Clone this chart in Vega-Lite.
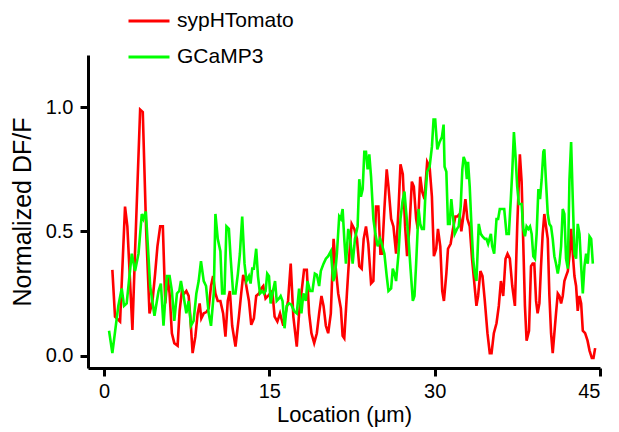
{
"$schema":"https://vega.github.io/schema/vega-lite/v6.json",
"autosize":{"type":"none"},
"padding":{"left":88,"top":55,"right":19,"bottom":64},
"width":512,"height":313,
"config":{"view":{"stroke":null},"font":"Liberation Sans"},
"datasets":{
"red":[
{"x":0.76,"y":0.345},{"x":1.0,"y":0.157},{"x":1.46,"y":0.137},{"x":1.91,"y":0.6},{"x":2.12,"y":0.52},{"x":2.58,"y":0.103},{"x":2.82,"y":0.42},{"x":3.28,"y":0.99},{"x":3.52,"y":0.98},{"x":3.83,"y":0.5},{"x":4.13,"y":0.17},{"x":4.4,"y":0.22},{"x":4.64,"y":0.33},{"x":4.85,"y":0.44},{"x":5.1,"y":0.52},{"x":5.34,"y":0.52},{"x":5.56,"y":0.21},{"x":5.77,"y":0.32},{"x":5.95,"y":0.25},{"x":6.16,"y":0.09},{"x":6.38,"y":0.05},{"x":6.68,"y":0.04},{"x":6.86,"y":0.18},{"x":7.07,"y":0.26},{"x":7.29,"y":0.25},{"x":7.47,"y":0.26},{"x":7.68,"y":0.24},{"x":7.83,"y":0.157},{"x":8.04,"y":0.01},{"x":8.29,"y":0.076},{"x":8.5,"y":0.17},{"x":8.68,"y":0.21},{"x":8.83,"y":0.15},{"x":9.05,"y":0.17},{"x":9.29,"y":0.175},{"x":9.5,"y":0.19},{"x":9.71,"y":0.28},{"x":9.9,"y":0.32},{"x":10.11,"y":0.25},{"x":10.32,"y":0.22},{"x":10.56,"y":0.22},{"x":10.81,"y":0.17},{"x":11.02,"y":0.076},{"x":11.23,"y":0.22},{"x":11.42,"y":0.26},{"x":11.63,"y":0.12},{"x":11.93,"y":0.036},{"x":12.24,"y":0.157},{"x":12.45,"y":0.25},{"x":12.63,"y":0.325},{"x":12.84,"y":0.3},{"x":12.99,"y":0.26},{"x":13.15,"y":0.22},{"x":13.36,"y":0.124},{"x":13.6,"y":0.15},{"x":13.81,"y":0.24},{"x":14.06,"y":0.25},{"x":14.27,"y":0.27},{"x":14.45,"y":0.28},{"x":14.66,"y":0.23},{"x":14.88,"y":0.24},{"x":15.06,"y":0.25},{"x":15.27,"y":0.26},{"x":15.48,"y":0.157},{"x":15.73,"y":0.137},{"x":15.97,"y":0.17},{"x":16.27,"y":0.12},{"x":16.48,"y":0.17},{"x":16.7,"y":0.22},{"x":16.94,"y":0.37},{"x":17.18,"y":0.157},{"x":17.49,"y":0.036},{"x":17.7,"y":0.17},{"x":17.91,"y":0.25},{"x":18.15,"y":0.345},{"x":18.4,"y":0.345},{"x":18.61,"y":0.17},{"x":18.82,"y":0.09},{"x":19.07,"y":0.05},{"x":19.31,"y":0.09},{"x":19.52,"y":0.17},{"x":19.73,"y":0.24},{"x":19.92,"y":0.2},{"x":20.13,"y":0.12},{"x":20.34,"y":0.09},{"x":20.58,"y":0.17},{"x":20.83,"y":0.47},{"x":21.04,"y":0.345},{"x":21.25,"y":0.25},{"x":21.49,"y":0.19},{"x":21.65,"y":0.08},{"x":21.8,"y":0.07},{"x":22.04,"y":0.25},{"x":22.25,"y":0.4},{"x":22.47,"y":0.53},{"x":22.71,"y":0.51},{"x":22.95,"y":0.47},{"x":23.16,"y":0.36},{"x":23.38,"y":0.35},{"x":23.56,"y":0.47},{"x":23.77,"y":0.52},{"x":23.98,"y":0.45},{"x":24.23,"y":0.29},{"x":24.44,"y":0.3},{"x":24.68,"y":0.6},{"x":24.89,"y":0.6},{"x":25.08,"y":0.41},{"x":25.23,"y":0.41},{"x":25.44,"y":0.59},{"x":25.65,"y":0.75},{"x":25.81,"y":0.68},{"x":26.05,"y":0.55},{"x":26.26,"y":0.52},{"x":26.5,"y":0.41},{"x":26.72,"y":0.59},{"x":26.9,"y":0.77},{"x":27.11,"y":0.73},{"x":27.32,"y":0.52},{"x":27.5,"y":0.4},{"x":27.72,"y":0.52},{"x":27.93,"y":0.7},{"x":28.11,"y":0.68},{"x":28.32,"y":0.55},{"x":28.47,"y":0.51},{"x":28.69,"y":0.72},{"x":28.87,"y":0.66},{"x":29.08,"y":0.63},{"x":29.32,"y":0.78},{"x":29.54,"y":0.76},{"x":29.75,"y":0.64},{"x":29.93,"y":0.4},{"x":30.14,"y":0.43},{"x":30.3,"y":0.51},{"x":30.51,"y":0.44},{"x":30.69,"y":0.26},{"x":30.84,"y":0.22},{"x":31.06,"y":0.33},{"x":31.21,"y":0.43},{"x":31.45,"y":0.45},{"x":31.66,"y":0.51},{"x":31.88,"y":0.56},{"x":32.06,"y":0.56},{"x":32.27,"y":0.57},{"x":32.42,"y":0.5},{"x":32.57,"y":0.55},{"x":32.79,"y":0.63},{"x":32.97,"y":0.55},{"x":33.18,"y":0.52},{"x":33.39,"y":0.39},{"x":33.58,"y":0.3},{"x":33.79,"y":0.2},{"x":33.94,"y":0.24},{"x":34.15,"y":0.34},{"x":34.34,"y":0.32},{"x":34.55,"y":0.22},{"x":34.79,"y":0.09},{"x":35.0,"y":0.01},{"x":35.16,"y":0.01},{"x":35.37,"y":0.09},{"x":35.61,"y":0.13},{"x":35.82,"y":0.2},{"x":36.01,"y":0.3},{"x":36.22,"y":0.24},{"x":36.43,"y":0.39},{"x":36.61,"y":0.41},{"x":36.82,"y":0.39},{"x":37.04,"y":0.28},{"x":37.28,"y":0.2},{"x":37.49,"y":0.52},{"x":37.73,"y":0.81},{"x":37.89,"y":0.7},{"x":38.04,"y":0.45},{"x":38.19,"y":0.2},{"x":38.34,"y":0.06},{"x":38.56,"y":0.1},{"x":38.74,"y":0.36},{"x":38.89,"y":0.37},{"x":39.04,"y":0.37},{"x":39.2,"y":0.22},{"x":39.34,"y":0.17},{"x":39.5,"y":0.21},{"x":39.65,"y":0.36},{"x":39.8,"y":0.49},{"x":39.95,"y":0.57},{"x":40.1,"y":0.52},{"x":40.26,"y":0.47},{"x":40.41,"y":0.24},{"x":40.56,"y":0.09},{"x":40.71,"y":0.01},{"x":40.86,"y":0.09},{"x":41.01,"y":0.17},{"x":41.17,"y":0.25},{"x":41.32,"y":0.24},{"x":41.47,"y":0.21},{"x":41.62,"y":0.24},{"x":41.77,"y":0.3},{"x":41.92,"y":0.32},{"x":42.08,"y":0.34},{"x":42.23,"y":0.4},{"x":42.38,"y":0.51},{"x":42.53,"y":0.41},{"x":42.68,"y":0.32},{"x":42.83,"y":0.28},{"x":42.98,"y":0.18},{"x":43.14,"y":0.24},{"x":43.29,"y":0.21},{"x":43.44,"y":0.1},{"x":43.65,"y":0.09},{"x":43.87,"y":0.06},{"x":44.05,"y":0.02},{"x":44.26,"y":-0.01},{"x":44.41,"y":-0.01},{"x":44.56,"y":0.03}
],
"green":[
{"x":0.46,"y":0.1},{"x":0.76,"y":0.01},{"x":1.3,"y":0.2},{"x":1.61,"y":0.27},{"x":1.82,"y":0.2},{"x":2.06,"y":0.21},{"x":2.31,"y":0.32},{"x":2.52,"y":0.41},{"x":2.82,"y":0.34},{"x":3.13,"y":0.41},{"x":3.43,"y":0.57},{"x":3.58,"y":0.55},{"x":3.8,"y":0.58},{"x":4.19,"y":0.28},{"x":4.58,"y":0.16},{"x":4.95,"y":0.26},{"x":5.16,"y":0.29},{"x":5.4,"y":0.12},{"x":5.7,"y":0.32},{"x":5.95,"y":0.32},{"x":6.16,"y":0.26},{"x":6.38,"y":0.14},{"x":6.62,"y":0.25},{"x":6.83,"y":0.26},{"x":6.98,"y":0.3},{"x":7.22,"y":0.24},{"x":7.47,"y":0.17},{"x":7.68,"y":0.22},{"x":7.89,"y":0.12},{"x":8.13,"y":0.14},{"x":8.38,"y":0.25},{"x":8.59,"y":0.3},{"x":8.8,"y":0.38},{"x":9.05,"y":0.3},{"x":9.26,"y":0.28},{"x":9.5,"y":0.17},{"x":9.71,"y":0.12},{"x":9.96,"y":0.25},{"x":10.11,"y":0.57},{"x":10.32,"y":0.47},{"x":10.56,"y":0.42},{"x":10.72,"y":0.25},{"x":10.93,"y":0.25},{"x":11.11,"y":0.52},{"x":11.33,"y":0.51},{"x":11.48,"y":0.4},{"x":11.72,"y":0.25},{"x":11.93,"y":0.25},{"x":12.15,"y":0.33},{"x":12.33,"y":0.41},{"x":12.54,"y":0.56},{"x":12.75,"y":0.37},{"x":12.93,"y":0.3},{"x":13.15,"y":0.32},{"x":13.3,"y":0.29},{"x":13.45,"y":0.35},{"x":13.6,"y":0.35},{"x":13.81,"y":0.43},{"x":13.97,"y":0.32},{"x":14.15,"y":0.25},{"x":14.36,"y":0.26},{"x":14.51,"y":0.25},{"x":14.66,"y":0.26},{"x":14.81,"y":0.33},{"x":14.97,"y":0.32},{"x":15.12,"y":0.21},{"x":15.33,"y":0.26},{"x":15.52,"y":0.3},{"x":15.67,"y":0.22},{"x":15.88,"y":0.23},{"x":16.03,"y":0.24},{"x":16.2,"y":0.22},{"x":16.38,"y":0.11},{"x":16.58,"y":0.2},{"x":16.79,"y":0.21},{"x":17.0,"y":0.205},{"x":17.24,"y":0.18},{"x":17.49,"y":0.17},{"x":17.7,"y":0.27},{"x":17.91,"y":0.17},{"x":18.09,"y":0.25},{"x":18.31,"y":0.22},{"x":18.46,"y":0.3},{"x":18.7,"y":0.26},{"x":18.91,"y":0.26},{"x":19.13,"y":0.33},{"x":19.31,"y":0.325},{"x":19.52,"y":0.28},{"x":19.67,"y":0.34},{"x":19.92,"y":0.37},{"x":20.13,"y":0.39},{"x":20.34,"y":0.4},{"x":20.58,"y":0.42},{"x":20.8,"y":0.3},{"x":20.95,"y":0.32},{"x":21.13,"y":0.41},{"x":21.34,"y":0.56},{"x":21.49,"y":0.55},{"x":21.65,"y":0.59},{"x":21.8,"y":0.47},{"x":21.95,"y":0.37},{"x":22.16,"y":0.51},{"x":22.34,"y":0.47},{"x":22.56,"y":0.37},{"x":22.77,"y":0.47},{"x":23.01,"y":0.52},{"x":23.16,"y":0.71},{"x":23.31,"y":0.64},{"x":23.47,"y":0.67},{"x":23.62,"y":0.82},{"x":23.77,"y":0.82},{"x":23.92,"y":0.75},{"x":24.07,"y":0.81},{"x":24.23,"y":0.72},{"x":24.44,"y":0.55},{"x":24.62,"y":0.49},{"x":24.83,"y":0.44},{"x":25.05,"y":0.47},{"x":25.2,"y":0.45},{"x":25.44,"y":0.41},{"x":25.65,"y":0.32},{"x":25.81,"y":0.26},{"x":26.05,"y":0.27},{"x":26.2,"y":0.35},{"x":26.35,"y":0.33},{"x":26.5,"y":0.3},{"x":26.72,"y":0.41},{"x":26.9,"y":0.55},{"x":27.08,"y":0.62},{"x":27.26,"y":0.66},{"x":27.41,"y":0.58},{"x":27.63,"y":0.47},{"x":27.81,"y":0.35},{"x":28.02,"y":0.22},{"x":28.17,"y":0.24},{"x":28.32,"y":0.37},{"x":28.54,"y":0.59},{"x":28.69,"y":0.53},{"x":28.84,"y":0.51},{"x":29.02,"y":0.51},{"x":29.14,"y":0.63},{"x":29.32,"y":0.74},{"x":29.54,"y":0.76},{"x":29.75,"y":0.84},{"x":29.9,"y":0.95},{"x":30.05,"y":0.95},{"x":30.24,"y":0.83},{"x":30.45,"y":0.86},{"x":30.66,"y":0.88},{"x":30.81,"y":0.93},{"x":30.9,"y":0.76},{"x":31.06,"y":0.74},{"x":31.21,"y":0.53},{"x":31.36,"y":0.53},{"x":31.51,"y":0.63},{"x":31.66,"y":0.56},{"x":31.82,"y":0.49},{"x":32.03,"y":0.51},{"x":32.18,"y":0.52},{"x":32.36,"y":0.6},{"x":32.51,"y":0.75},{"x":32.63,"y":0.8},{"x":32.79,"y":0.78},{"x":32.92,"y":0.71},{"x":33.03,"y":0.78},{"x":33.18,"y":0.68},{"x":33.33,"y":0.53},{"x":33.49,"y":0.39},{"x":33.64,"y":0.33},{"x":33.79,"y":0.3},{"x":34.0,"y":0.53},{"x":34.18,"y":0.49},{"x":34.34,"y":0.48},{"x":34.55,"y":0.47},{"x":34.7,"y":0.47},{"x":34.85,"y":0.45},{"x":35.1,"y":0.49},{"x":35.22,"y":0.44},{"x":35.4,"y":0.41},{"x":35.61,"y":0.55},{"x":35.76,"y":0.55},{"x":35.91,"y":0.59},{"x":36.07,"y":0.59},{"x":36.31,"y":0.59},{"x":36.52,"y":0.49},{"x":36.73,"y":0.49},{"x":36.91,"y":0.63},{"x":37.04,"y":0.74},{"x":37.19,"y":0.9},{"x":37.34,"y":0.8},{"x":37.49,"y":0.68},{"x":37.64,"y":0.61},{"x":37.89,"y":0.61},{"x":38.04,"y":0.51},{"x":38.19,"y":0.48},{"x":38.34,"y":0.52},{"x":38.5,"y":0.51},{"x":38.65,"y":0.52},{"x":38.8,"y":0.49},{"x":38.95,"y":0.4},{"x":39.1,"y":0.39},{"x":39.25,"y":0.49},{"x":39.41,"y":0.67},{"x":39.56,"y":0.63},{"x":39.71,"y":0.71},{"x":39.86,"y":0.82},{"x":39.95,"y":0.83},{"x":40.1,"y":0.7},{"x":40.26,"y":0.57},{"x":40.41,"y":0.53},{"x":40.56,"y":0.52},{"x":40.71,"y":0.47},{"x":40.86,"y":0.4},{"x":41.01,"y":0.37},{"x":41.17,"y":0.33},{"x":41.32,"y":0.37},{"x":41.47,"y":0.44},{"x":41.62,"y":0.59},{"x":41.77,"y":0.57},{"x":41.92,"y":0.39},{"x":42.08,"y":0.35},{"x":42.23,"y":0.71},{"x":42.38,"y":0.86},{"x":42.53,"y":0.63},{"x":42.68,"y":0.41},{"x":42.83,"y":0.39},{"x":42.98,"y":0.53},{"x":43.14,"y":0.49},{"x":43.29,"y":0.36},{"x":43.44,"y":0.25},{"x":43.59,"y":0.36},{"x":43.74,"y":0.41},{"x":43.89,"y":0.37},{"x":44.05,"y":0.48},{"x":44.2,"y":0.47},{"x":44.35,"y":0.37}
]},
"encoding":{
"x":{"field":"x","type":"quantitative","scale":{"domain":[-1.45,45],"nice":false,"zero":false},
"axis":{"values":[0,15,30,45],"format":"d","title":"Location (\u03bcm)","grid":false,"domainColor":"black","domainWidth":3,"tickColor":"black","tickWidth":3,"tickSize":8,"labelFontSize":20,"labelColor":"black","labelPadding":5,"titleFontSize":22,"titleFontWeight":"normal","titleColor":"black","titlePadding":3}},
"y":{"field":"y","type":"quantitative","scale":{"domain":[-0.05,1.21],"nice":false,"zero":false},
"axis":{"values":[0,0.5,1],"format":".1f","title":"Normalized DF/F","grid":false,"domainColor":"black","domainWidth":3,"tickColor":"black","tickWidth":3,"tickSize":8,"labelFontSize":20,"labelColor":"black","labelPadding":7,"titleFontSize":25,"titleFontWeight":"normal","titleColor":"black","titlePadding":10}}
},
"layer":[
{"data":{"name":"red"},"mark":{"type":"line","strokeWidth":2.6,"clip":false},
 "encoding":{"color":{"datum":"sypHTomato","type":"nominal","scale":{"domain":["sypHTomato","GCaMP3"],"range":["#ff0000","#00ff00"]},
 "legend":{"title":null,"orient":"none","legendX":39,"legendY":-56,"symbolType":"stroke","symbolSize":1681,"symbolStrokeWidth":3,"labelFontSize":21,"labelColor":"black","labelOffset":6,"rowPadding":4,"padding":0}}}},
{"data":{"name":"green"},"mark":{"type":"line","strokeWidth":2.6,"clip":false},
 "encoding":{"color":{"datum":"GCaMP3","type":"nominal"}}}
]
}
